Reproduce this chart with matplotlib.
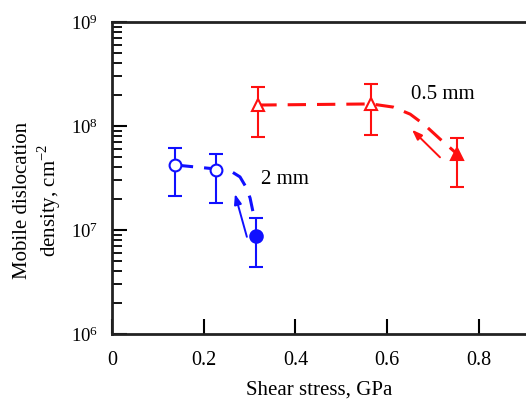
import matplotlib
matplotlib.use("Agg")
import matplotlib.pyplot as plt
from matplotlib.ticker import LogLocator, NullFormatter, FixedLocator

plt.rcParams['font.family'] = ['Liberation Serif', 'DejaVu Serif']
plt.rcParams['mathtext.fontset'] = 'custom'
plt.rcParams['mathtext.rm'] = 'Liberation Serif'

BLUE = '#1010ff'
RED = '#ff1010'

# 2 mm specimen (blue circles): open = steady, filled = final state
stress_2mm_open = [0.137, 0.227]
rho_2mm_open = [4.2e7, 3.8e7]
rho_2mm_open_lo = [2.1e7, 1.8e7]
rho_2mm_open_hi = [6.2e7, 5.4e7]

stress_2mm_fill = [0.315]
rho_2mm_fill = [8.8e6]
rho_2mm_fill_lo = [4.4e6]
rho_2mm_fill_hi = [1.29e7]

# 0.5 mm specimen (red triangles)
stress_05mm_open = [0.319, 0.565]
rho_05mm_open = [1.59e8, 1.62e8]
rho_05mm_open_lo = [7.9e7, 8.2e7]
rho_05mm_open_hi = [2.36e8, 2.52e8]

stress_05mm_fill = [0.753]
rho_05mm_fill = [5.4e7]
rho_05mm_fill_lo = [2.57e7]
rho_05mm_fill_hi = [7.7e7]

# hand-drawn guide curves
guide_2mm_x = [0.137, 0.227, 0.262, 0.279, 0.292, 0.301, 0.307]
guide_2mm_y = [4.22e7, 3.86e7, 3.61e7, 3.24e7, 2.59e7, 2.03e7, 1.52e7]
guide_05mm_x = [0.319, 0.565, 0.613, 0.650, 0.682, 0.715, 0.748]
guide_05mm_y = [1.59e8, 1.63e8, 1.52e8, 1.30e8, 1.02e8, 7.5e7, 5.6e7]

x_ticks = [0, 0.2, 0.4, 0.6, 0.8]
x_ticklabels = ['0', '0.2', '0.4', '0.6', '0.8']

FS = 15

fig = plt.figure(figsize=(5.26, 4.01), dpi=100)
ax = fig.add_axes([112/526, 67/401, 1 - 112/526, 312/401])
ax.set_yscale('log')
ax.set_xlim(0, 0.9025)
ax.set_ylim(1e6, 1e9)


def errbars(x, y, lo, hi, color, marker, face, ms):
    yerr = [[yy - l for yy, l in zip(y, lo)], [h - yy for yy, h in zip(y, hi)]]
    ax.errorbar(x, y, yerr=yerr, fmt=marker, color=color, mfc=face, mec=color,
                ms=ms, mew=1.5, elinewidth=1.5, capsize=5, capthick=1.5, zorder=4)


dash = (0, (6.0, 3.6))
ax.plot(guide_2mm_x, guide_2mm_y, color=BLUE, lw=2.2, linestyle=dash, zorder=2)
ax.plot(guide_05mm_x, guide_05mm_y, color=RED, lw=2.2, linestyle=dash, zorder=2)

errbars(stress_2mm_open, rho_2mm_open, rho_2mm_open_lo, rho_2mm_open_hi, BLUE, 'o', 'white', 8.5)
errbars(stress_2mm_fill, rho_2mm_fill, rho_2mm_fill_lo, rho_2mm_fill_hi, BLUE, 'o', BLUE, 9)
errbars(stress_05mm_open, rho_05mm_open, rho_05mm_open_lo, rho_05mm_open_hi, RED, '^', 'white', 9)
errbars(stress_05mm_fill, rho_05mm_fill, rho_05mm_fill_lo, rho_05mm_fill_hi, RED, '^', RED, 9)

arrow_kw = dict(arrowstyle='-|>,head_length=0.6,head_width=0.22', lw=1.4, shrinkA=0, shrinkB=0)
ax.annotate('', xy=(0.268, 2.22e7), xytext=(0.294, 8.6e6),
            arrowprops=dict(color=BLUE, **arrow_kw))
ax.annotate('', xy=(0.654, 9.2e7), xytext=(0.715, 5.0e7),
            arrowprops=dict(color=RED, **arrow_kw))

ax.text(0.325, 3.05e7, '2 mm', fontsize=FS, ha='left', va='center')
ax.text(0.652, 1.99e8, '0.5 mm', fontsize=FS, ha='left', va='center')

ax.xaxis.set_major_locator(FixedLocator(x_ticks))
ax.set_xticklabels(x_ticklabels)
ax.yaxis.set_major_locator(LogLocator(base=10, numticks=10))
ax.yaxis.set_minor_locator(LogLocator(base=10, subs=range(2, 10), numticks=20))
ax.yaxis.set_minor_formatter(NullFormatter())

ax.tick_params(axis='both', which='major', direction='in', length=11, width=1.5,
               top=False, right=False)
ax.tick_params(axis='x', which='major', labelsize=14.5, pad=12)
ax.tick_params(axis='y', which='major', labelsize=13.5, pad=10)
ax.tick_params(axis='y', which='minor', direction='in', length=7, width=1.3, right=False)
ax.tick_params(axis='x', which='minor', bottom=False, top=False)

for s in ['left', 'bottom', 'top']:
    ax.spines[s].set_linewidth(2.0)
    ax.spines[s].set_color('#222222')
ax.spines['right'].set_visible(False)

ax.set_xlabel('Shear stress, GPa', fontsize=FS, labelpad=8)
fig.text(38/526, 1 - 200/401, 'Mobile dislocation\ndensity, cm$^{-2}$', fontsize=FS,
         rotation=90, ha='center', va='center', multialignment='center',
         linespacing=1.15)

fig.savefig('out.png', dpi=100)
